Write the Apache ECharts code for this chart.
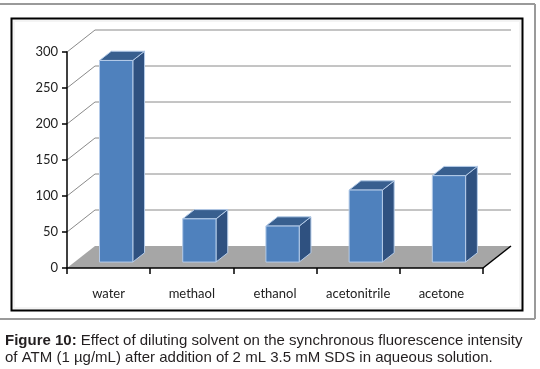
<!DOCTYPE html>
<html>
<head>
<meta charset="utf-8">
<script src="https://cdn.jsdelivr.net/npm/echarts@6/dist/echarts.min.js"></script>
<style>
html,body{margin:0;padding:0;background:#fff;}
#chart{width:540px;height:369px;}
</style>
</head>
<body>
<div id="chart"></div>
<script>
const categories = ['water', 'methaol', 'ethanol', 'acetonitrile', 'acetone'];
const values = [280, 60, 50, 100, 120];
const yTicks = [0, 50, 100, 150, 200, 250, 300];
const captionBold = 'Figure 10:';
const captionLine1 = ' Effect of diluting solvent on the synchronous fluorescence intensity';
const captionLine2 = 'of ATM (1 µg/mL) after addition of 2 mL 3.5 mM SDS in aqueous solution.';

const DX = 28, DY = -22;       // depth offset of the back wall
const D0 = 0.27, DB = 0.42;    // bar front depth fraction and bar depth fraction
const BAR_FRAC = 0.40;

const chart = echarts.init(document.getElementById('chart'), null, {renderer: 'canvas'});

function wallItem(params, api) {
  const cs = params.coordSys;
  const v = api.value(1);
  const p = api.coord([0, v]);
  const y = p[1];
  if (v === 0) {
    return {
      type: 'group',
      children: [
        {type: 'polygon', shape: {points: [[cs.x, y], [cs.x + cs.width, y], [cs.x + cs.width + DX, y + DY], [cs.x + DX, y + DY]]},
         style: {fill: '#a6a6a6', stroke: null}},
        {type: 'line', shape: {x1: cs.x + cs.width, y1: y, x2: cs.x + cs.width + DX, y2: y + DY},
         style: {stroke: '#000', lineWidth: 1.5}}
      ]
    };
  }
  return {
    type: 'polyline',
    shape: {points: [[cs.x, y], [cs.x + DX, y + DY], [cs.x + cs.width + DX, y + DY]]},
    style: {stroke: '#8a8a8a', lineWidth: 1, fill: null}
  };
}

function barItem(params, api) {
  const c0 = api.coord([api.value(0), 0]);
  const c1 = api.coord([api.value(0), api.value(1)]);
  const band = api.size([1, 0])[0];
  const bw = band * BAR_FRAC;
  const ox = D0 * DX, oy = D0 * DY;
  const bx = DB * DX, by = DB * DY;
  const x0 = c0[0] - bw / 2 + ox, x1 = c0[0] + bw / 2 + ox;
  const yb = c0[1] + oy, yt = c1[1] + oy;
  const edge = '#b4cbe8';
  return {
    type: 'group',
    children: [
      {type: 'polygon', shape: {points: [[x1, yb], [x1, yt], [x1 + bx, yt + by], [x1 + bx, yb + by]]},
       style: {fill: '#2f5180', stroke: edge, lineWidth: 1}},
      {type: 'polygon', shape: {points: [[x0, yt], [x1, yt], [x1 + bx, yt + by], [x0 + bx, yt + by]]},
       style: {fill: '#385f8f', stroke: edge, lineWidth: 1}},
      {type: 'rect', shape: {x: x0, y: yt, width: x1 - x0, height: yb - yt},
       style: {fill: '#4f81bd', stroke: edge, lineWidth: 1}}
    ]
  };
}

const option = {
  backgroundColor: '#fff',
  animation: false,
  title: {
    left: 5,
    top: 332,
    padding: 0,
    text: '{b|' + captionBold + '}{n|' + captionLine1 + '}\n{n|' + captionLine2 + '}',
    textStyle: {
      fontWeight: 'normal',
      rich: {
        b: {fontFamily: 'Liberation Sans', fontWeight: 'bold', fontSize: 15, color: '#231f20', lineHeight: 17},
        n: {fontFamily: 'Liberation Sans', fontWeight: 'normal', fontSize: 15, color: '#231f20', lineHeight: 17}
      }
    }
  },
  graphic: [
    {type: 'line', shape: {x1: 0, y1: 4, x2: 535, y2: 4}, style: {stroke: '#9a9a9a', lineWidth: 2}, silent: true, z: -10},
    {type: 'line', shape: {x1: 535, y1: 4, x2: 535, y2: 319}, style: {stroke: '#9a9a9a', lineWidth: 2}, silent: true, z: -10},
    {type: 'line', shape: {x1: 0, y1: 319, x2: 535, y2: 319}, style: {stroke: '#9a9a9a', lineWidth: 2}, silent: true, z: -10},
    {type: 'rect', shape: {x: 11.5, y: 18.5, width: 511, height: 292}, style: {fill: '#f4f4f4', stroke: '#000', lineWidth: 2}, silent: true, z: -10},
    {type: 'rect', shape: {x: 15, y: 22, width: 504, height: 285}, style: {fill: '#fff', stroke: null}, silent: true, z: -9}
  ],
  grid: {left: 67, top: 52, width: 416, height: 216, containLabel: false},
  xAxis: {
    type: 'category',
    data: categories,
    z: 10,
    axisLine: {lineStyle: {color: '#000', width: 1.5}},
    axisTick: {show: true, interval: 0, length: 6, lineStyle: {color: '#000', width: 1.5}, alignWithLabel: false},
    axisLabel: {interval: 0, hideOverlap: false, margin: 19, fontFamily: 'Lato', fontSize: 13, color: '#222'},
    splitLine: {show: false}
  },
  yAxis: {
    type: 'value',
    min: 0, max: 300, interval: 50,
    z: 10,
    axisLine: {show: true, lineStyle: {color: '#000', width: 1.5}},
    axisTick: {show: true, length: 5, lineStyle: {color: '#000', width: 1.5}},
    axisLabel: {margin: 9, fontFamily: 'Lato', fontSize: 13, color: '#222'},
    splitLine: {show: false}
  },
  series: [
    {
      type: 'custom',
      name: 'wall',
      z: 1,
      silent: true,
      renderItem: wallItem,
      data: yTicks.map(v => [0, v]),
      encode: {x: 0, y: 1}
    },
    {
      type: 'custom',
      name: 'intensity',
      z: 3,
      renderItem: barItem,
      data: values.map((v, i) => [i, v]),
      encode: {x: 0, y: 1}
    }
  ]
};
chart.setOption(option);
</script>
</body>
</html>
